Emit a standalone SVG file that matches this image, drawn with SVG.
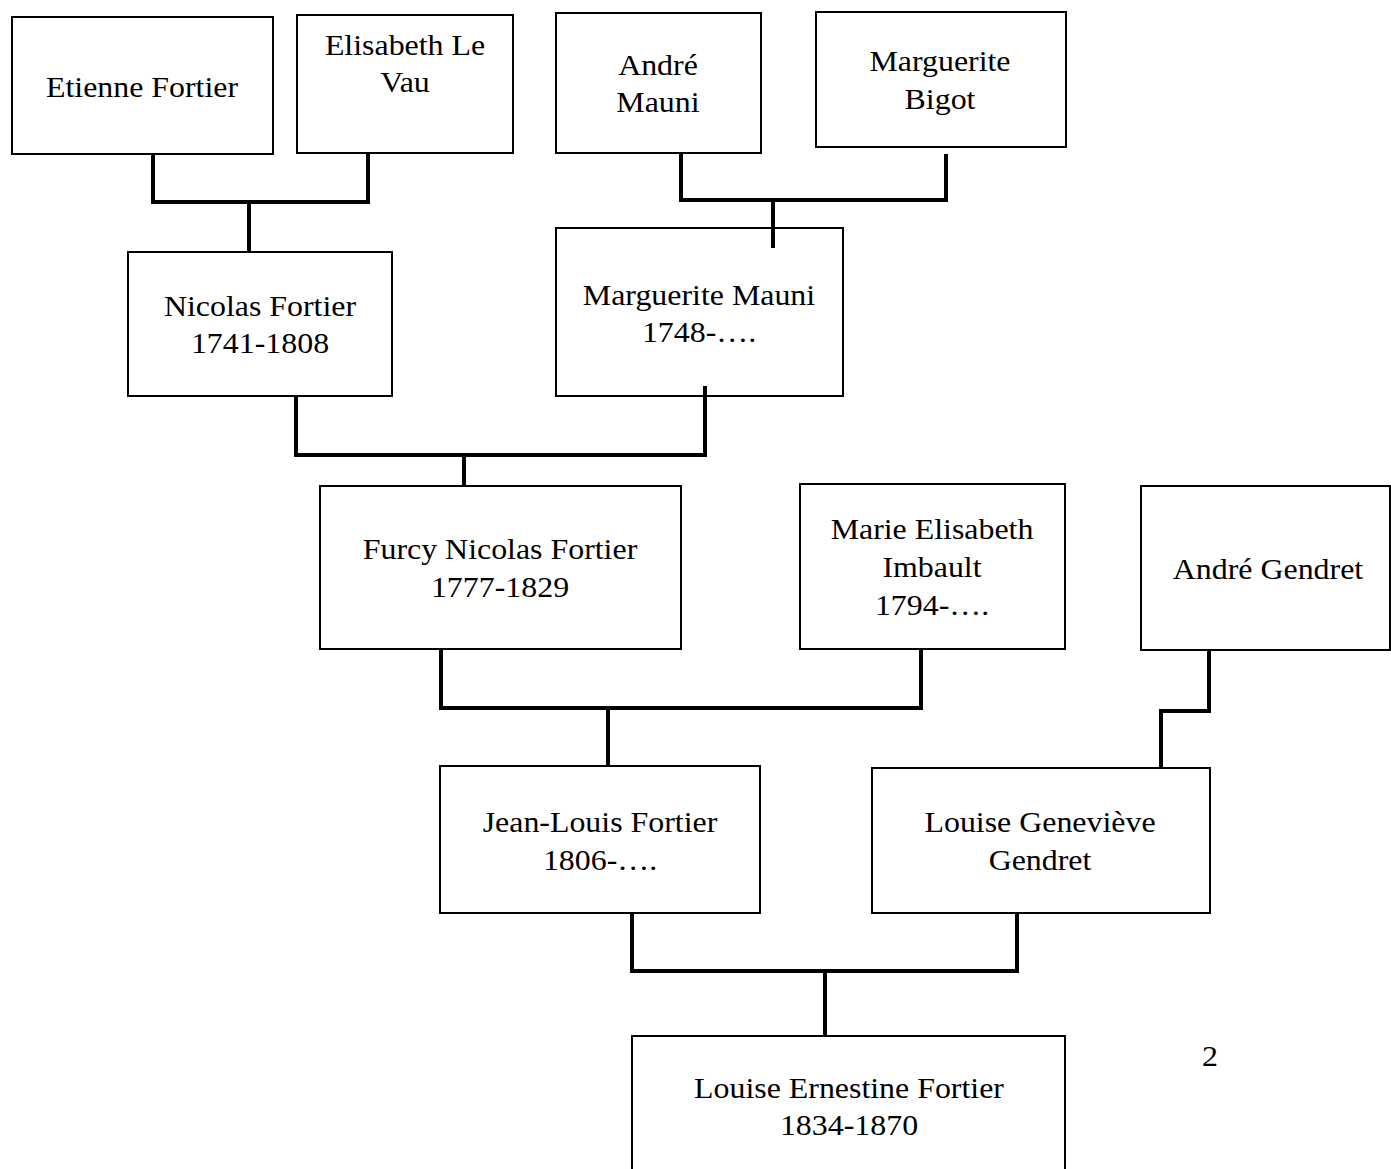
<svg xmlns="http://www.w3.org/2000/svg" width="1391" height="1169" viewBox="0 0 1391 1169">
<style>
.box{fill:#fff;stroke:#000;stroke-width:2}
.t{font-family:"Liberation Serif","Times New Roman",serif;font-size:29px;fill:#000;text-anchor:middle}
.c{fill:none;stroke:#000;stroke-width:4;stroke-linecap:butt;stroke-linejoin:miter}
</style>
<rect width="1391" height="1169" fill="#fff"/>
<g id="etienne-fortier"><rect class="box" x="12" y="17" width="261" height="137"/><text class="t" transform="translate(142,0) scale(1.1,1)" y="97">Etienne Fortier</text></g>
<g id="elisabeth-le-vau"><rect class="box" x="297" y="15" width="216" height="138"/><text class="t" transform="translate(405,0) scale(1.1,1)" y="55">Elisabeth Le</text><text class="t" transform="translate(405,0) scale(1.1,1)" y="92">Vau</text></g>
<g id="andre-mauni"><rect class="box" x="556" y="13" width="205" height="140"/><text class="t" transform="translate(658,0) scale(1.1,1)" y="75">André</text><text class="t" transform="translate(658,0) scale(1.1,1)" y="112">Mauni</text></g>
<g id="marguerite-bigot"><rect class="box" x="816" y="12" width="250" height="135"/><text class="t" transform="translate(940,0) scale(1.1,1)" y="71">Marguerite</text><text class="t" transform="translate(940,0) scale(1.1,1)" y="109">Bigot</text></g>
<g id="nicolas-fortier"><rect class="box" x="128" y="252" width="264" height="144"/><text class="t" transform="translate(260,0) scale(1.1,1)" y="316">Nicolas Fortier</text><text class="t" transform="translate(260,0) scale(1.1,1)" y="353">1741-1808</text></g>
<g id="marguerite-mauni"><rect class="box" x="556" y="228" width="287" height="168"/><text class="t" transform="translate(699,0) scale(1.1,1)" y="305">Marguerite Mauni</text><text class="t" transform="translate(699,0) scale(1.1,1)" y="342">1748-….</text></g>
<g id="furcy-nicolas-fortier"><rect class="box" x="320" y="486" width="361" height="163"/><text class="t" transform="translate(500,0) scale(1.1,1)" y="559">Furcy Nicolas Fortier</text><text class="t" transform="translate(500,0) scale(1.1,1)" y="597">1777-1829</text></g>
<g id="marie-elisabeth-imbault"><rect class="box" x="800" y="484" width="265" height="165"/><text class="t" transform="translate(932,0) scale(1.1,1)" y="539">Marie Elisabeth</text><text class="t" transform="translate(932,0) scale(1.1,1)" y="577">Imbault</text><text class="t" transform="translate(932,0) scale(1.1,1)" y="615">1794-….</text></g>
<g id="andre-gendret"><rect class="box" x="1141" y="486" width="249" height="164"/><text class="t" transform="translate(1268,0) scale(1.1,1)" y="579">André Gendret</text></g>
<g id="jean-louis-fortier"><rect class="box" x="440" y="766" width="320" height="147"/><text class="t" transform="translate(600,0) scale(1.1,1)" y="832">Jean-Louis Fortier</text><text class="t" transform="translate(600,0) scale(1.1,1)" y="870">1806-….</text></g>
<g id="louise-genevieve-gendret"><rect class="box" x="872" y="768" width="338" height="145"/><text class="t" transform="translate(1040,0) scale(1.1,1)" y="832">Louise Geneviève</text><text class="t" transform="translate(1040,0) scale(1.1,1)" y="870">Gendret</text></g>
<g id="louise-ernestine-fortier"><rect class="box" x="632" y="1036" width="433" height="150"/><text class="t" transform="translate(849,0) scale(1.1,1)" y="1098">Louise Ernestine Fortier</text><text class="t" transform="translate(849,0) scale(1.1,1)" y="1135">1834-1870</text></g>
<g id="connectors">
<path class="c" d="M153,155 V202 H368 V154 M249,202 V251"/>
<path class="c" d="M681,154 V200 H946 V154 M773,200 V248"/>
<path class="c" d="M296,397 V455 H705 V386 M464,455 V485"/>
<path class="c" d="M441,650 V708 H921 V650 M608,708 V765"/>
<path class="c" d="M1209,651 V711 H1161 V767"/>
<path class="c" d="M632,914 V971 H1017 V914 M825,971 V1035"/>
</g>
<text class="t" transform="translate(1210,0) scale(1.1,1)" y="1066">2</text>
</svg>
